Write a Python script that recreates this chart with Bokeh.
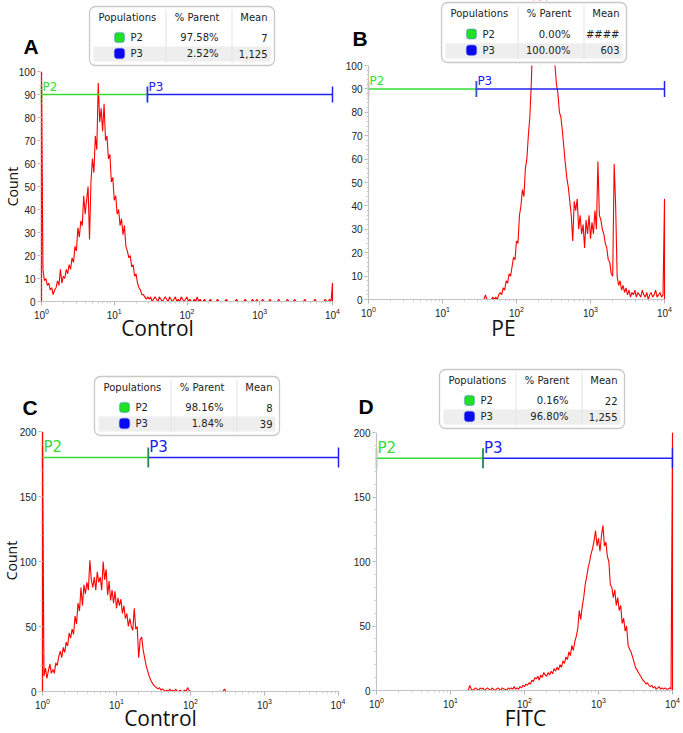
import numpy as np
from bokeh.plotting import figure
from bokeh.models import Range1d, FixedTicker, Label, BoxAnnotation, SingleIntervalTicker
from bokeh.layouts import column, row
from bokeh.embed import file_html
from bokeh.resources import INLINE

# ---------------- data ----------------
channel_log10 = np.linspace(0, 4, 201)   # histogram channel positions (log10 of intensity)

counts_A = [
    100, 14, 9, 10, 7, 8, 5, 6, 3, 5,
    6, 9, 7, 14, 8, 11, 10, 14, 12, 16,
    14, 19, 17, 24, 22, 32, 28, 35, 33, 46,
    38, 44, 50, 27, 52, 62, 56, 72, 66, 95,
    78, 84, 74, 86, 70, 72, 62, 64, 52, 54,
    44, 46, 38, 40, 33, 36, 29, 33, 24, 22,
    19, 20, 15, 16, 11, 12, 8, 6, 5, 3,
    3, 2, 1, 2, 1, 2, 0, 1, 2, 1,
    0, 2, 1, 0, 1, 2, 1, 0, 2, 1,
    0, 1, 2, 0, 1, 0, 2, 1, 0, 1,
    2, 0, 1, 0, 0, 1, 0, 2, 0, 1,
    0, 0, 1, 0, 0, 0, 1, 0, 0, 0,
    0, 1, 0, 0, 0, 0, 0, 1, 0, 0,
    0, 0, 0, 0, 1, 0, 0, 0, 0, 0,
    1, 0, 0, 0, 0, 1, 0, 0, 1, 0,
    0, 0, 1, 0, 0, 0, 0, 1, 0, 0,
    0, 0, 0, 1, 0, 0, 0, 0, 0, 1,
    0, 0, 0, 0, 1, 0, 0, 0, 0, 0,
    0, 1, 0, 0, 0, 0, 0, 0, 1, 0,
    0, 0, 0, 0, 0, 1, 0, 0, 1, 0,
    8,
]

counts_B = [0] * 75 + [
    0, 0, 0, 0, 2,
    0, 0, 0, 0, 1, 0, 1, 0, 2, 3,
    2, 5, 4, 8, 7, 11, 10, 14, 18, 17,
    25, 24, 36, 40, 47, 44, 56, 60, 70, 78,
    92, 115, 130, 140, 150, 145, 100, 150, 140, 135,
    130, 125, 120, 118, 112, 108, 100, 92, 88, 80,
    78, 72, 65, 58, 52, 48, 42, 36, 25, 42,
    38, 43, 30, 36, 28, 32, 22, 34, 28, 36,
    26, 33, 28, 38, 30, 59, 36, 34, 30, 28,
    24, 22, 17, 16, 11, 10, 58, 40, 10, 6,
    8, 4, 6, 3, 5, 2, 4, 1, 3, 2,
    4, 1, 3, 2, 1, 4, 2, 1, 3, 0,
    2, 3, 1, 2, 4, 1, 2, 3, 1, 2,
    43,
]

counts_C = [
    200, 12, 18, 10, 16, 21, 14, 17, 14, 22,
    20, 27, 31, 26, 34, 30, 38, 35, 45, 41,
    48, 44, 58, 52, 68, 62, 80, 66, 82, 75,
    84, 78, 101, 86, 80, 88, 78, 92, 84, 88,
    78, 100, 86, 94, 74, 85, 70, 78, 68, 77,
    64, 72, 66, 71, 60, 66, 56, 60, 50, 56,
    50, 47, 64, 48, 50, 26, 40, 42, 32, 26,
    20, 16, 12, 9, 7, 5, 4, 3, 2, 3,
    1, 2, 1, 0, 1, 0, 2, 0, 1, 0,
    2, 0, 0, 1, 0, 0, 1, 0, 3, 1,
] + [0] * 23 + [2] + [0] * 77

counts_D = [0] * 63 + [
    4, 1, 0, 1, 2, 1, 0,
    2, 1, 2, 0, 1, 2, 1, 0, 2, 1,
    0, 1, 2, 1, 0, 2, 1, 1, 0, 2,
    1, 2, 1, 3, 1, 2, 1, 3, 2, 4,
    3, 5, 4, 6, 5, 8, 7, 10, 9, 11,
    8, 12, 10, 14, 12, 11, 14, 12, 15, 13,
    17, 15, 18, 16, 20, 18, 23, 21, 26, 24,
    30, 27, 35, 31, 38, 42, 48, 62, 55, 65,
    72, 82, 88, 95, 100, 106, 110, 116, 124, 112,
    118, 108, 120, 128, 112, 115, 104, 100, 82, 80,
    72, 78, 66, 72, 62, 66, 52, 56, 46, 50,
    35, 32, 30, 26, 22, 18, 16, 14, 12, 10,
    8, 7, 5, 6, 4, 3, 4, 2, 3, 1,
    2, 3, 1, 2, 1, 2, 1, 1, 2, 1,
    200,
]

panel_letters = ["A", "B", "C", "D"]
x_titles = ["Control", "PE", "Control", "FITC"]
y_max = [100, 100, 200, 200]
y_tick_interval = [10, 10, 50, 50]
gate_level = [90, 90, 180, 180]
gate_split = [28.6, 28.7, 26.9, 27.5]
gate_limits = [1, 10000]
gate_names = ["P2", "P3"]
table_headers = ["Populations", "% Parent", "Mean"]
table_pct = [["97.58%", "2.52%"], ["0.00%", "100.00%"], ["98.16%", "1.84%"], ["0.16%", "96.80%"]]
table_mean = [["7", "1,125"], ["####", "603"], ["8", "39"], ["22", "1,255"]]
x_major = [1, 10, 100, 1000, 10000]
counts_all = [counts_A, counts_B, counts_C, counts_D]

# ---------------- layout (page pixels) ----------------
fig_box = [(0, 0, 345, 364), (345, 0, 338, 364), (0, 364, 345, 369), (345, 364, 338, 369)]
frames = [(41, 332, 71, 301), (368, 664, 65, 299), (42, 338, 431, 691), (376, 672, 432, 690)]
tables = [(89, 6, 59), (441, 2, 60), (94, 376, 59), (439, 369, 59)]
letter_mid = [(23, 45.5), (352, 37.5), (22, 406.5), (358, 405.5)]
xtitle_mid = [(157, 327), (503, 327), (160, 717), (525, 717)]
count_mid = [(12, 186), None, (11, 560), None]
gate_font = [12, 12, 15, 15]
gate_label_rise = [8, 8, 10.5, 10.5]
gate_tick = [8, 8, 10, 10]
split_tick_color = ["#2233ee", "#2a55cc", "#1f8a4a", "#1f8a4a"]
left_axis_line = ["#ff0000", "#c4c4c4", "#ff0000", "#c4c4c4"]

GREEN = "#33dd33"
BLUE = "#2020f0"
RED = "#ff0000"


def make_panel(k):
    x0, y0, w, h = fig_box[k]
    L, R, T, B = frames[k]
    ymax = y_max[k]

    def X(px):
        return 10 ** ((px - L) / (R - L) * 4)

    def Y(py):
        return (B - py) / (B - T) * ymax

    def PX(xv):
        return L + np.log10(xv) / 4 * (R - L)

    p = figure(width=w, height=h, x_axis_type="log", x_range=Range1d(X(x0), X(x0 + w)),
               y_range=Range1d(Y(y0 + h), Y(y0)), output_backend="svg", toolbar_location=None,
               title=None, min_border=0, min_border_left=0, min_border_right=0,
               min_border_top=0, min_border_bottom=0)
    p.outline_line_color = None
    p.grid.visible = False
    p.background_fill_color = "white"
    p.border_fill_color = "white"

    p.xaxis.ticker = FixedTicker(ticks=x_major,
                                 minor_ticks=[m * 10 ** e for e in range(4) for m in range(2, 10)])
    p.yaxis.ticker = SingleIntervalTicker(interval=y_tick_interval[k], num_minor_ticks=5)
    p.xaxis.fixed_location = 0
    p.yaxis.fixed_location = 1
    p.xaxis.bounds = (1, 10000)
    p.yaxis.bounds = (0, ymax)
    for ax in p.axis:
        ax.axis_line_color = "#c4c4c4"
        ax.major_tick_line_color = "#b4b4b4"
        ax.minor_tick_line_color = "#cccccc"
        ax.major_tick_out = 4
        ax.major_tick_in = 0
        ax.minor_tick_out = 2
        ax.minor_tick_in = 0
        ax.major_label_text_font = "Liberation Sans"
        ax.major_label_text_font_size = "10px"
        ax.major_label_text_color = "#222222"
        ax.major_label_standoff = 2
    p.yaxis.axis_line_color = left_axis_line[k]
    p.yaxis.axis_line_width = 1.2

    # histogram, closed down to the baseline at both ends of the channel range
    xs = np.concatenate([[1.0], 10 ** channel_log10, [10000.0]])
    ys = np.concatenate([[0], counts_all[k], [0]])
    p.line(xs, ys, color=RED, line_width=1.1)

    # mask anything above the top of the count axis
    p.add_layout(BoxAnnotation(bottom=ymax, left=X(L - 1), right=X(R + 2), fill_color="white",
                               fill_alpha=1, line_color=None))

    # gates
    g = gate_level[k]
    th = gate_tick[k] / (B - T) * ymax
    s = gate_split[k]
    p.segment(x0=[gate_limits[0]], y0=[g], x1=[s], y1=[g], color=GREEN, line_width=1.5)
    p.segment(x0=[s], y0=[g], x1=[gate_limits[1]], y1=[g], color=BLUE, line_width=1.5)
    p.segment(x0=[gate_limits[0]], y0=[g - th], x1=[gate_limits[0]], y1=[g + th], color=GREEN, line_width=1.5)
    p.segment(x0=[gate_limits[1]], y0=[g - th], x1=[gate_limits[1]], y1=[g + th], color=BLUE, line_width=1.5)
    p.segment(x0=[s], y0=[g - th], x1=[s], y1=[g + th], color=split_tick_color[k], line_width=1.8)
    gpy = B - (g / ymax) * (B - T)
    for name, gpx, col in ((gate_names[0], L + 1, GREEN), (gate_names[1], PX(s) + 1, BLUE)):
        p.add_layout(Label(x=X(gpx), y=Y(gpy - gate_label_rise[k]), text=name, text_color=col,
                           text_font="DejaVu Sans", text_font_size=f"{gate_font[k]}px",
                           text_align="left", text_baseline="middle"))

    # panel letter
    lx, ly = letter_mid[k]
    p.add_layout(Label(x=X(lx), y=Y(ly), text=panel_letters[k], text_font="Liberation Sans",
                       text_font_style="bold", text_font_size="21px", text_color="#000000",
                       text_align="left", text_baseline="middle"))

    # x title
    tx_, ty_ = xtitle_mid[k]
    p.add_layout(Label(x=X(tx_), y=Y(ty_), text=x_titles[k], text_font="Open Sans",
                       text_font_size="21px", text_color="#111111", text_align="center",
                       text_baseline="middle"))

    # y title
    if count_mid[k] is not None:
        cx, cy = count_mid[k]
        p.add_layout(Label(x=X(cx), y=Y(cy), text="Count", angle=np.pi / 2, text_font="Open Sans",
                           text_font_size="14px", text_color="#111111", text_align="center",
                           text_baseline="middle"))

    # stats table
    tx, ty, tht = tables[k]
    tw = 185
    sc = tht / 59
    p.add_layout(BoxAnnotation(left=X(tx), right=X(tx + tw), top=Y(ty), bottom=Y(ty + tht),
                               fill_color="white", fill_alpha=1, line_color="#4d4d4d",
                               line_width=1.3, border_radius=6))
    p.add_layout(BoxAnnotation(left=X(tx + 4), right=X(tx + 181), top=Y(ty + 40 * sc),
                               bottom=Y(ty + 55 * sc), fill_color="#eeeeee", fill_alpha=1,
                               line_color=None))
    for cxx in (76, 142):
        p.add_layout(BoxAnnotation(left=X(tx + cxx), right=X(tx + cxx + 1), top=Y(ty + 3),
                                   bottom=Y(ty + tht - 3), fill_color="#e4e4e4", fill_alpha=1,
                                   line_color=None))
    font = dict(text_font="DejaVu Sans", text_font_size="10px", text_color="#222222",
                text_baseline="middle")
    hy = Y(ty + 11 * sc)
    p.add_layout(Label(x=X(tx + 9), y=hy, text=table_headers[0], text_align="left", **font))
    p.add_layout(Label(x=X(tx + 130), y=hy, text=table_headers[1], text_align="right", **font))
    p.add_layout(Label(x=X(tx + 178), y=hy, text=table_headers[2], text_align="right", **font))
    marker_style = [dict(fill_color="#22e022", line_color="#4a5cff"),
                    dict(fill_color="#0a0af0", line_color="#0a0af0")]
    for r, ry_off in enumerate((31, 47)):
        ry = ty + ry_off * sc
        p.add_layout(BoxAnnotation(left=X(tx + 25), right=X(tx + 35), top=Y(ry - 5), bottom=Y(ry + 5),
                                   fill_alpha=1, line_width=1.4, border_radius=3, **marker_style[r]))
        p.add_layout(Label(x=X(tx + 41), y=Y(ry), text=gate_names[r], text_align="left", **font))
        p.add_layout(Label(x=X(tx + 129), y=Y(ry), text=table_pct[k][r], text_align="right", **font))
        p.add_layout(Label(x=X(tx + 178), y=Y(ry), text=table_mean[k][r], text_align="right", **font))
    return p


panels = [make_panel(k) for k in range(4)]
layout = column(row(panels[0], panels[1]), row(panels[2], panels[3]))

open("out.html", "w").write(file_html(layout, INLINE))
